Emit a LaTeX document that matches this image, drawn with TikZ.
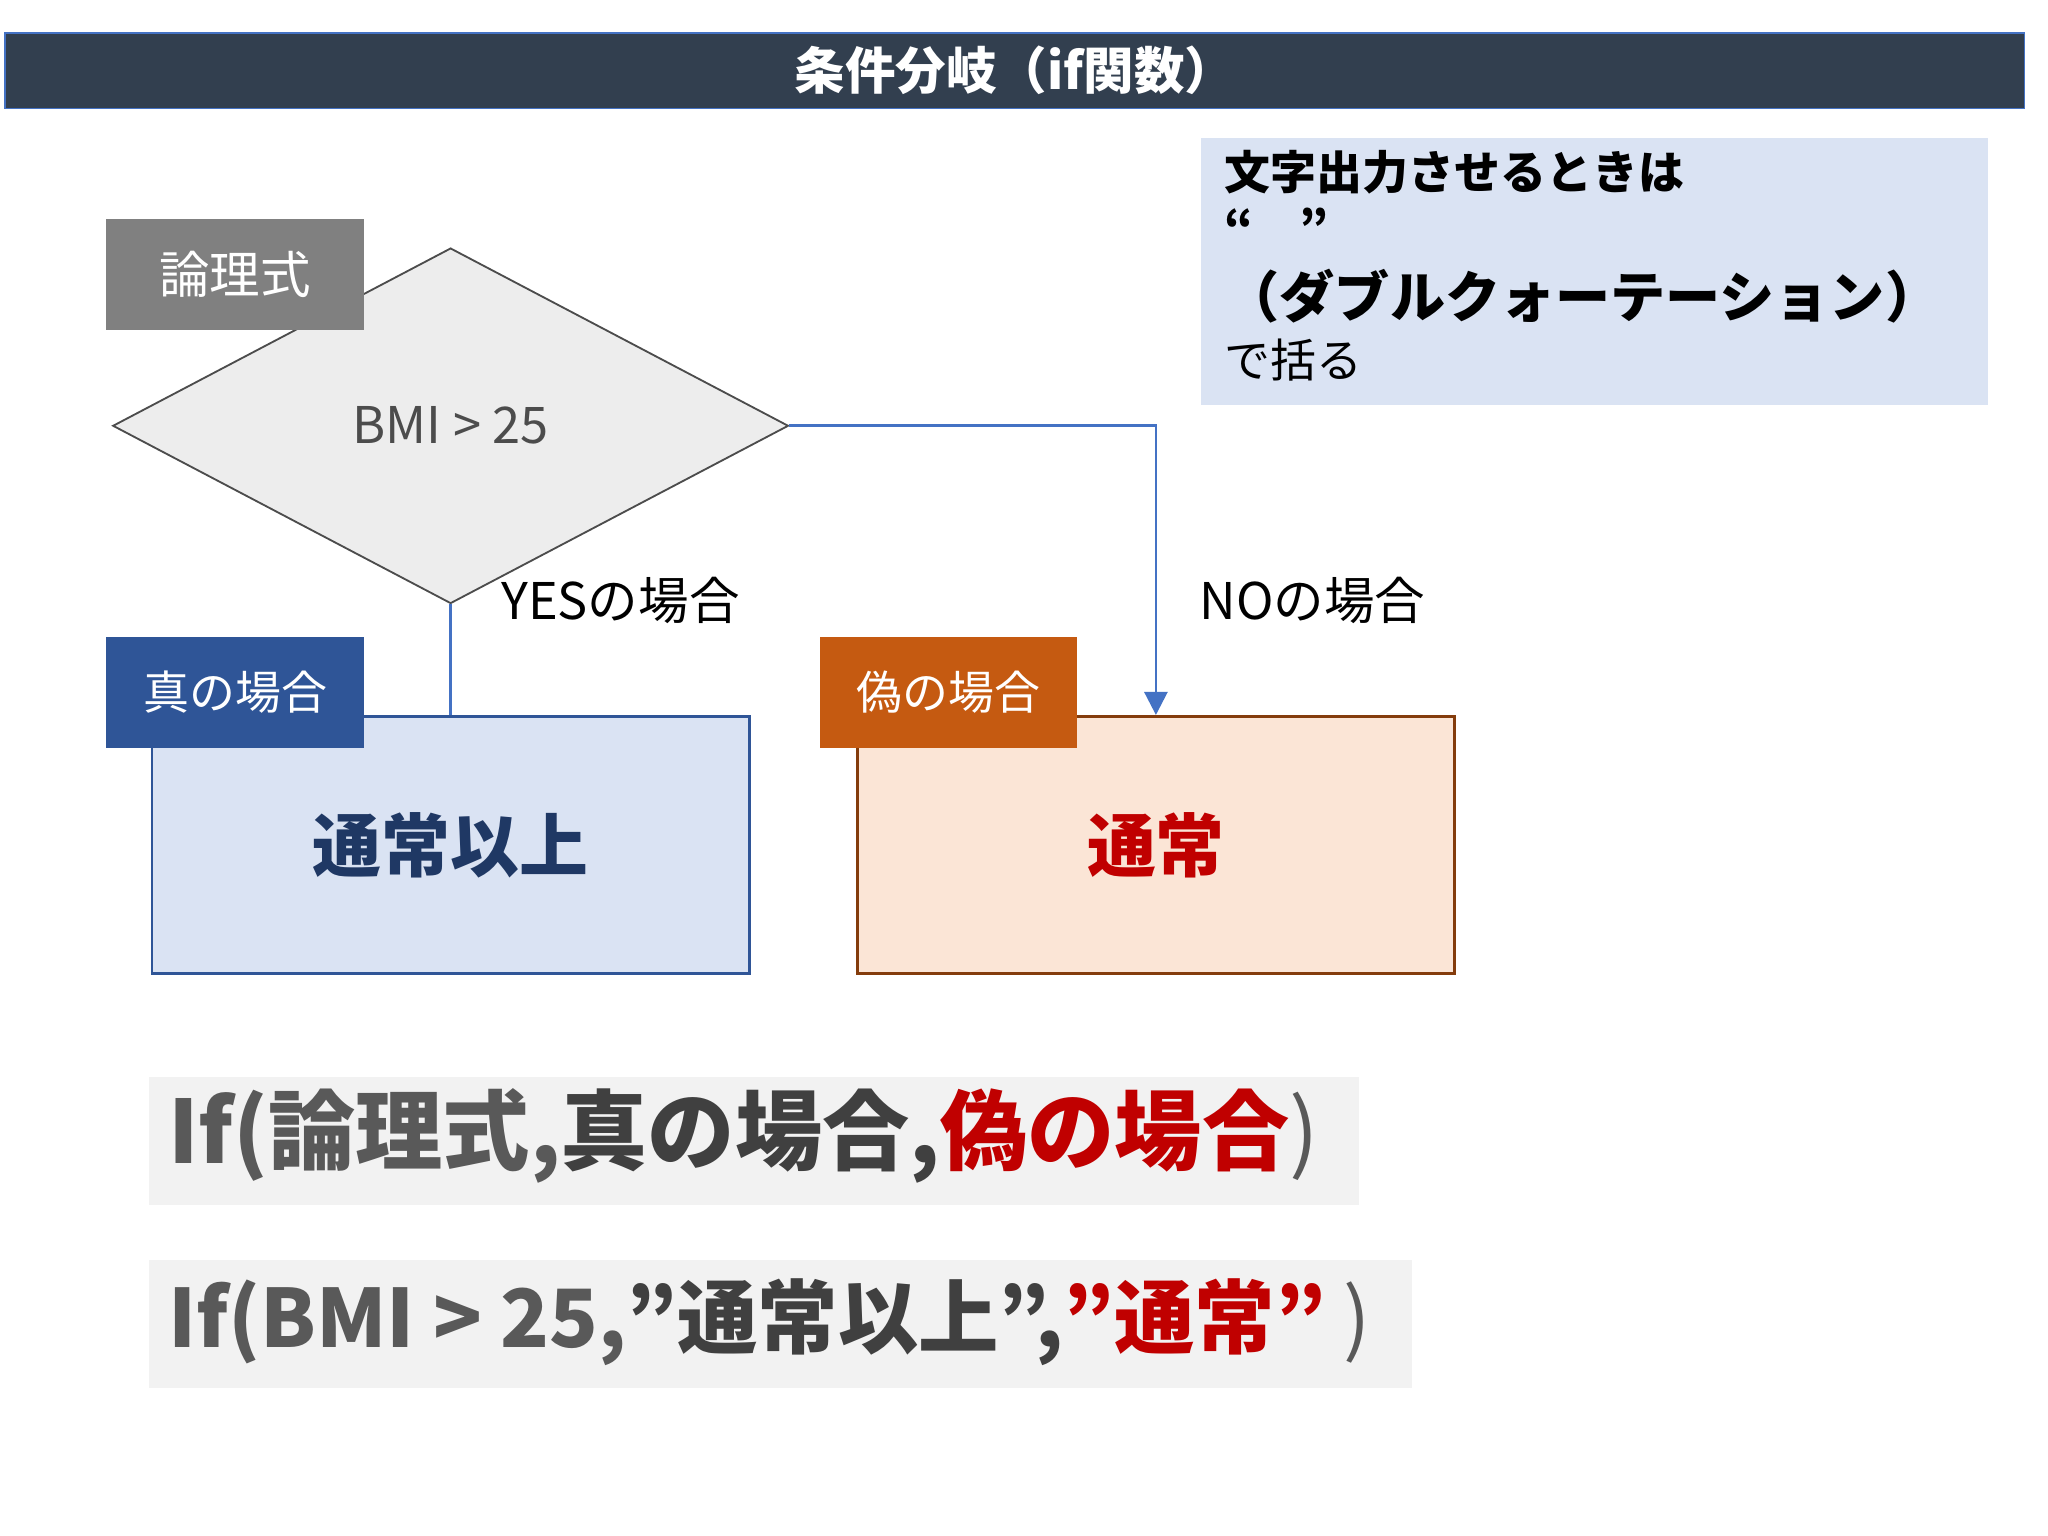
\documentclass[tikz,border=0pt]{standalone}
\usepackage{fontspec}
\setmainfont{Noto Sans CJK JP}
\usetikzlibrary{arrows.meta,shapes.geometric}
\definecolor{titlebg}{HTML}{323F4F}
\definecolor{notebg}{HTML}{DAE3F3}
\definecolor{blueln}{HTML}{4472C4}
\definecolor{darkblue}{HTML}{2F5597}
\definecolor{navy}{HTML}{1F3864}
\definecolor{orangebg}{HTML}{FBE5D6}
\definecolor{orangehd}{HTML}{C55A11}
\definecolor{brownln}{HTML}{843C0C}
\definecolor{redtx}{HTML}{C00000}
\definecolor{graytx}{HTML}{595959}
\definecolor{lightg}{HTML}{F2F2F2}
\tikzset{
 tag/.style={minimum width=1.97cm,minimum height=0.85cm,inner sep=0pt,text=white,font=\fontsize{10}{12}\selectfont},
 result/.style={minimum width=4.57cm,minimum height=1.97cm,inner sep=0pt,line width=0.6pt,font=\bfseries\fontsize{15}{18}\selectfont},
 formula/.style={minimum height=0.98cm,inner sep=0pt,fill=lightg,anchor=north west},
 lab/.style={font=\fontsize{11}{13}\selectfont}
}
\begin{document}
\begin{tikzpicture}[x=0.01cm,y=-0.01cm]
\useasboundingbox[fill=white] (0,0) rectangle (1568,1176);
\node[fill=titlebg,draw=blueln,minimum width=15.45cm,minimum height=0.58cm,inner sep=0pt,text=white,font=\bfseries\fontsize{11}{13}\selectfont] (title) at (777,54) {条件分岐（if関数）};
\node[fill=notebg,minimum width=6.02cm,minimum height=2.04cm,inner sep=0pt] (note) at (1221,208) {};
\node[anchor=north west,align=left,inner sep=0pt,font=\fontsize{10}{14}\selectfont] (notetx) at (937,114) {\textbf{文字出力させるときは}\\[-2pt]\textbf{“\quad ”}\\[2pt]\textbf{\fontsize{12}{14}\selectfont（ダブルクォーテーション）}\\[-1pt]で括る};
\node[diamond,draw=black!70,fill=black!7,minimum width=5.17cm,minimum height=2.72cm,inner sep=0pt,aspect=1.9,font=\fontsize{11}{13}\selectfont,text=black!70] (dia) at (345,326) {BMI > 25};
\node[tag,fill=black!50,font=\fontsize{11}{13}\selectfont] (logic) at (180,210) {論理式};
\node[result,fill=notebg,draw=darkblue,text=navy] (yes) at (345,647) {通常以上};
\node[result,fill=orangebg,draw=brownln,text=redtx] (no) at (885,647) {通常};
\node[tag,fill=darkblue] (t) at (180,530) {真の場合};
\node[tag,fill=orangehd] (f) at (726,530) {偽の場合};
\draw[blueln,line width=0.6pt] (dia.south) -- (yes.north-|dia.south);
\draw[blueln,line width=0.6pt,-{Triangle[length=5pt,width=5pt]}] (dia.east) -| (no.north);
\node[lab] (yl) at (475,460) {YESの場合};
\node[lab] (nl) at (1005,460) {NOの場合};
\node[formula,minimum width=9.26cm] (f1) at (113,824) {};
\node[anchor=west,inner sep=0pt,font=\bfseries\fontsize{19}{22}\selectfont] (f1t) at (128,870) {\textcolor{graytx}{If(論理式,}\textcolor{black!75}{真の場合,}\textcolor{redtx}{偽の場合}\textcolor{graytx}{\mdseries )}};
\node[formula,minimum width=9.67cm] (f2) at (113,964) {};
\node[anchor=west,inner sep=0pt,font=\bfseries\fontsize{17.5}{21}\selectfont] (f2t) at (128,1012) {\textcolor{graytx}{If(BMI > 25,}\textcolor{black!75}{”通常以上”,}\textcolor{redtx}{”通常”}\textcolor{graytx}{\mdseries\ )}};
\end{tikzpicture}
\end{document}
